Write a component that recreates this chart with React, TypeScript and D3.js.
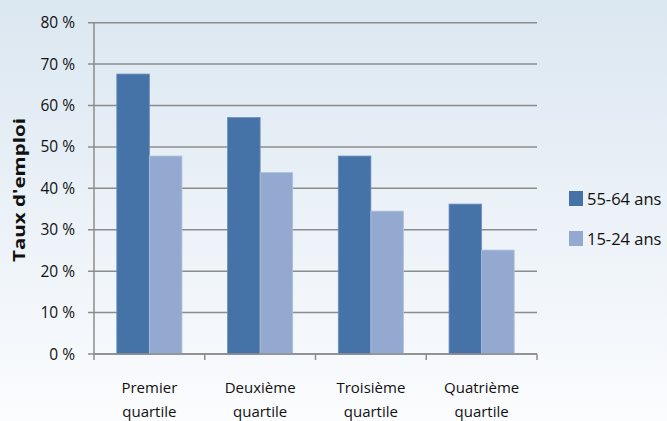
import React, { useEffect, useRef } from 'react';
import * as d3 from 'd3';

const categories = ['Premier quartile', 'Deuxième quartile', 'Troisième quartile', 'Quatrième quartile'];
const series = ['55-64 ans', '15-24 ans'];
const older = [67.6, 57.1, 47.8, 36.2];
const younger = [47.8, 43.8, 34.5, 25.1];
const yTicks = [0, 10, 20, 30, 40, 50, 60, 70, 80];

const App = () => {
  const svgRef = useRef<SVGSVGElement>(null);

  useEffect(() => {
    const svg = d3.select(svgRef.current);
    svg.selectAll('*').remove();

    const W = 667;
    const H = 421;
    const font = '"Open Sans", sans-serif';
    const colors = ['#4572a7', '#93a9cf'];

    const defs = svg.append('defs');
    const grad = defs.append('linearGradient').attr('id', 'bg').attr('x1', 0).attr('y1', 0).attr('x2', 0).attr('y2', 1);
    grad.append('stop').attr('offset', '0%').attr('stop-color', '#dbe7f1');
    grad.append('stop').attr('offset', '100%').attr('stop-color', '#fbfcfe');
    svg.append('rect').attr('width', W).attr('height', H).attr('fill', 'url(#bg)');

    const x = d3.scaleBand().domain(categories).range([94, 537]).padding(0);
    const y = d3.scaleLinear().domain([0, 80]).range([354, 22.7]);

    // gridlines
    svg.append('g')
      .selectAll('line')
      .data(yTicks)
      .enter()
      .append('line')
      .attr('x1', 88)
      .attr('x2', 537)
      .attr('y1', d => y(d))
      .attr('y2', d => y(d))
      .attr('stroke', '#8c8c8c')
      .attr('stroke-width', 1.5);

    // y tick labels
    svg.append('g')
      .selectAll('text')
      .data(yTicks)
      .enter()
      .append('text')
      .attr('x', 75)
      .attr('y', d => y(d) + 5.5)
      .attr('text-anchor', 'end')
      .style('font-family', font)
      .style('font-size', '15.5px')
      .style('fill', '#111')
      .text(d => `${d} %`);

    // bars
    const inner = d3.scaleBand().domain(series).range([0, x.bandwidth()]).paddingOuter(0.7).paddingInner(0);
    const values = [older, younger];
    series.forEach((s, si) => {
      svg.append('g')
        .selectAll('rect')
        .data(values[si])
        .enter()
        .append('rect')
        .attr('x', (d, i) => (x(categories[i]) as number) + (inner(s) as number))
        .attr('y', d => y(d))
        .attr('width', inner.bandwidth())
        .attr('height', d => y(0) - y(d))
        .attr('fill', colors[si])
        .attr('stroke', si === 0 ? '#6d8fbf' : '#b0c1de')
        .attr('stroke-width', 0.8);
    });

    // axes lines
    svg.append('line').attr('x1', 94).attr('x2', 94).attr('y1', y(80)).attr('y2', y(0))
      .attr('stroke', '#8c8c8c').attr('stroke-width', 1.5);
    svg.append('line').attr('x1', 94).attr('x2', 537).attr('y1', y(0)).attr('y2', y(0))
      .attr('stroke', '#8c8c8c').attr('stroke-width', 1.5);
    const xt = categories.map(c => x(c) as number).concat([537]);
    svg.append('g')
      .selectAll('line')
      .data(xt)
      .enter()
      .append('line')
      .attr('x1', d => d)
      .attr('x2', d => d)
      .attr('y1', y(0))
      .attr('y2', y(0) + 6)
      .attr('stroke', '#8c8c8c')
      .attr('stroke-width', 1.5);

    // x labels
    const xl = svg.append('g')
      .selectAll('text')
      .data(categories)
      .enter()
      .append('text')
      .attr('text-anchor', 'middle')
      .style('font-family', font)
      .style('font-size', '15px')
      .style('fill', '#111');
    xl.each(function (d) {
      const words = d.split(' ');
      const t = d3.select(this);
      const cx = (x(d) as number) + x.bandwidth() / 2;
      words.forEach((w, i) => {
        t.append('tspan').attr('x', cx).attr('y', 393 + i * 24).text(w);
      });
    });

    // y title
    svg.append('text')
      .attr('transform', 'translate(25,190) rotate(-90)')
      .attr('text-anchor', 'middle')
      .attr('textLength', 144)
      .attr('lengthAdjust', 'spacingAndGlyphs')
      .style('font-family', font)
      .style('font-size', '16.5px')
      .style('font-weight', 'bold')
      .style('fill', '#111')
      .text("Taux d'emploi");

    // legend
    const lg = svg.append('g')
      .selectAll('g')
      .data(series)
      .enter()
      .append('g')
      .attr('transform', (d, i) => `translate(569,${191 + i * 40})`);
    lg.append('rect').attr('width', 14).attr('height', 15).attr('fill', (d, i) => colors[i]);
    lg.append('text')
      .attr('x', 18)
      .attr('y', 14)
      .style('font-family', font)
      .style('font-size', '16.5px')
      .style('fill', '#111')
      .text(d => d);
  }, []);

  return <svg ref={svgRef} width={667} height={421} style={{ position: 'absolute', left: 0, top: 0 }} />;
};

export default App;
